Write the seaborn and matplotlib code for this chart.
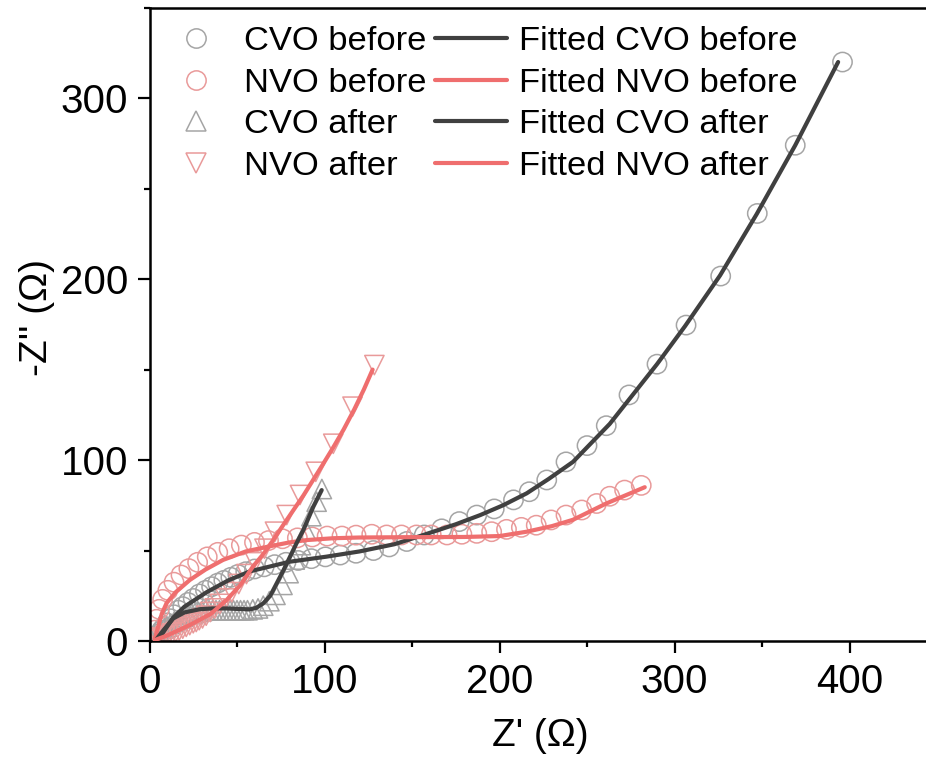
import matplotlib
matplotlib.use("Agg")
import matplotlib.pyplot as plt
from matplotlib.lines import Line2D
from matplotlib.ticker import MultipleLocator
import seaborn as sns
import pandas as pd

# ---------------- data ----------------
cvo_before_x = [4.5, 5.5, 7, 8.5, 10, 12, 14, 16.5, 19, 22, 25, 28.5, 32, 35.5, 39, 42.5,
                46.5, 50.5, 55, 60, 65.5, 71.5, 78, 85, 92.5, 100.5, 109, 118, 128, 137,
                147, 157, 167, 177, 187, 197, 208, 217, 227, 238, 250, 261, 274, 290,
                306.6, 326.4, 347.3, 369, 396]
cvo_before_y = [2.5, 4, 6, 8, 10, 12.3, 14.5, 17, 19, 21.3, 23.5, 26, 28, 30, 32, 33.5,
                35.2, 36.8, 38.3, 39.8, 41, 42.2, 43.5, 44.5, 45.5, 46.5, 47.5, 48.5, 50, 52,
                55, 58.6, 62, 66, 69.6, 73, 78, 82.5, 89, 99, 108, 119, 136, 153,
                174.6, 201.7, 236.3, 274, 320]

nvo_before_x = [3, 4, 5.5, 7.5, 10.5, 14, 18, 22.5, 27.5, 33, 39, 45.5, 52.5, 60, 68, 76,
                84.5, 93, 101.5, 110, 118, 127, 135.5, 144, 152.5, 161, 170, 178.5, 187,
                195.5, 204, 212.5, 221, 229.5, 238, 247, 255.5, 263, 271.5, 281]
nvo_before_y = [6, 12, 17.5, 23, 28, 32.5, 36.5, 40, 43.5, 46.5, 49, 51, 53, 54.5, 55.5, 56.5,
                57, 57.5, 58, 58, 58.5, 59, 58.6, 58.6, 58.6, 58.6, 58.6, 59, 59.5,
                60.4, 61.7, 62.8, 64, 66.9, 69.6, 72.4, 76, 80, 83.4, 86]

cvo_after_x = [4, 5.5, 7, 8.5, 10, 12, 14, 16, 18, 20, 22, 24, 26, 28, 30, 32, 34, 36, 38,
               40, 42, 44, 46, 48, 50, 52, 54, 56, 59, 62, 65, 68.5, 72, 76, 79.5, 83,
               86.5, 89.5, 92.5, 95.5, 98.5]
cvo_after_y = [2, 4, 5.5, 7, 8, 9.5, 10.5, 11.5, 12.5, 13.5, 14.5, 15, 15.5, 16, 16.5, 17, 17,
               17, 17, 17, 17, 17, 17, 17, 17, 17, 17, 17, 17.5, 18, 19.5, 22, 25.5, 31,
               37.5, 45, 53, 61, 69, 77, 84]

nvo_after_x = [3.5, 5, 7, 9, 11, 13, 15, 17, 19, 21, 23, 25, 26.7, 28.4, 30.3, 32.4, 34.7,
               37.3, 40.2, 43.4, 47, 51, 55.4, 60.3, 65.7, 71.7, 78.4, 86, 95, 105, 116,
               128.5]
nvo_after_y = [0.6, 1.2, 1.9, 2.6, 3.4, 4.2, 5, 5.8, 6.8, 7.8, 8.8, 9.8, 10.5, 11.5, 12.5, 14,
               16, 18, 20.5, 23.5, 27, 31.5, 37, 43.5, 51, 60.4, 69.6, 80.7, 93.5, 109,
               129.5, 152.5]

fit_cvo_before_x = [5, 8, 13.6, 20, 32.7, 45, 57.4, 80, 101, 120, 140, 156.5, 175, 189,
                    202, 215.5, 228, 242, 263, 290, 306, 326, 347, 369, 393.5]
fit_cvo_before_y = [1, 5, 13, 19, 27, 33.5, 38.5, 43.8, 46.6, 49.5, 53.5, 58.6, 64.5, 69.6,
                    75, 81.6, 89.5, 99, 120, 153, 174, 202, 236, 274, 320]

fit_nvo_before_x = [3, 5, 7, 9.8, 15, 23, 32, 42, 55, 67, 80, 90, 105, 120, 150, 180, 200,
                    215.5, 230, 242, 261, 272, 283]
fit_nvo_before_y = [1, 8, 15, 21, 27, 33.7, 39.5, 44.8, 49.5, 52, 54.5, 55.8, 56.8, 57.2,
                    57.4, 57.5, 58, 60.4, 63.5, 67, 76, 80.5, 85]

fit_cvo_after_x = [4, 8, 13.6, 20, 28.9, 36, 44, 51, 57.4, 61, 65, 69, 72.7, 76.5, 80.3, 84,
                   87.9, 93.6, 98.4]
fit_cvo_after_y = [1, 6, 12.5, 15.8, 17.6, 18, 18, 17.7, 17.5, 18.3, 20.8, 25, 31.9, 39,
                   46.6, 54, 61.3, 74.2, 83.4]

fit_nvo_after_x = [3, 10, 23, 35, 44, 52, 59, 65, 70.7, 76, 82, 88, 93.5, 99, 105, 111, 117,
                   122.5, 127.5]
fit_nvo_after_y = [0.5, 3, 8.8, 15, 22.6, 31, 41, 48, 55.8, 63.5, 72, 80.5, 89, 97.5, 107,
                   117, 128, 139, 150]

legend_marker_labels = ["CVO before", "NVO before", "CVO after", "NVO after"]
legend_line_labels = ["Fitted CVO before", "Fitted NVO before", "Fitted CVO after",
                      "Fitted NVO after"]

x_label = "Z' (\u03a9)"
y_label = "-Z'' (\u03a9)"

# ---------------- style ----------------
sns.set_style("ticks")
plt.rcParams["font.family"] = ["Liberation Sans", "DejaVu Sans"]
plt.rcParams["text.color"] = "black"
plt.rcParams["axes.labelcolor"] = "black"
plt.rcParams["xtick.color"] = "black"
plt.rcParams["ytick.color"] = "black"

GRAY_M = "#a5a5a5"
PINK_M = "#e99a9a"
DARK = "#404040"
PINK = "#ef6e6e"

W, H = 926, 774
fig = plt.figure(figsize=(W / 100, H / 100), dpi=100)
x0, ybot, ytop = 149.5, 641, 7.5
ax = fig.add_axes([x0 / W, (H - ybot) / H, 1 - x0 / W, (ybot - ytop) / H])

ms = 13.9
mew = 1.1

def scatter(xs, ys, marker, color):
    df = pd.DataFrame({"x": xs, "y": ys})
    sns.scatterplot(data=df, x="x", y="y", ax=ax, marker=marker, s=ms ** 2,
                    facecolors="none", edgecolor=color, linewidth=mew, legend=False,
                    zorder=2)

def fitline(xs, ys, color):
    df = pd.DataFrame({"x": xs, "y": ys})
    sns.lineplot(data=df, x="x", y="y", ax=ax, sort=False, color=color, linewidth=3.0,
                 legend=False, zorder=3)

scatter(cvo_before_x, cvo_before_y, "o", GRAY_M)
scatter(nvo_before_x, nvo_before_y, "o", PINK_M)
scatter(cvo_after_x, cvo_after_y, "^", GRAY_M)
scatter(nvo_after_x, nvo_after_y, "v", PINK_M)

fitline(fit_cvo_before_x, fit_cvo_before_y, DARK)
fitline(fit_nvo_before_x, fit_nvo_before_y, PINK)
fitline(fit_cvo_after_x, fit_cvo_after_y, DARK)
fitline(fit_nvo_after_x, fit_nvo_after_y, PINK)

ax.set_xlim(0, (W - x0) / 1.75)
ax.set_ylim(0, (ybot - ytop) / 1.8093)

ax.xaxis.set_major_locator(MultipleLocator(100))
ax.xaxis.set_minor_locator(MultipleLocator(50))
ax.yaxis.set_major_locator(MultipleLocator(100))
ax.yaxis.set_minor_locator(MultipleLocator(50))

for side in ["left", "bottom", "top"]:
    ax.spines[side].set_visible(True)
    ax.spines[side].set_linewidth(1.8)
    ax.spines[side].set_color("black")
ax.spines["right"].set_visible(False)

ax.tick_params(axis="both", which="major", direction="out", length=8.5, width=1.6,
               labelsize=29, pad=7, colors="black", labelcolor="black")
ax.tick_params(axis="both", which="minor", direction="out", length=4.5, width=1.6)
ax.tick_params(top=False, right=False, which="both")

ax.set_xlabel(x_label, fontsize=28, color="black")
ax.set_ylabel(y_label, fontsize=28, color="black")
ax.xaxis.set_label_coords((540 - x0) / (W - x0), (ybot - 718) / (ybot - ytop))
ax.yaxis.set_label_coords((55 - x0) / (W - x0), (ybot - 318) / (ybot - ytop))

# ---------------- legend ----------------
handles = [
    Line2D([], [], linestyle="none", marker="o", markersize=ms, markerfacecolor="none",
           markeredgecolor=GRAY_M, markeredgewidth=mew),
    Line2D([], [], linestyle="none", marker="o", markersize=ms, markerfacecolor="none",
           markeredgecolor=PINK_M, markeredgewidth=mew),
    Line2D([], [], linestyle="none", marker="^", markersize=ms, markerfacecolor="none",
           markeredgecolor=GRAY_M, markeredgewidth=mew),
    Line2D([], [], linestyle="none", marker="v", markersize=ms, markerfacecolor="none",
           markeredgecolor=PINK_M, markeredgewidth=mew),
    Line2D([], [], color=DARK, linewidth=3.0),
    Line2D([], [], color=PINK, linewidth=3.0),
    Line2D([], [], color=DARK, linewidth=3.0),
    Line2D([], [], color=PINK, linewidth=3.0),
]
labels = legend_marker_labels + legend_line_labels
leg = ax.legend(handles, labels, ncol=2, frameon=False, loc="upper left",
                bbox_to_anchor=(160 / W, (H - 26) / H), bbox_transform=fig.transFigure,
                borderaxespad=0, borderpad=0, fontsize=24.8, handlelength=2.1,
                handletextpad=0.33, columnspacing=0.26, labelspacing=0.305)
for t in leg.get_texts():
    t.set_color("black")

fig.savefig("out.png", dpi=100)
